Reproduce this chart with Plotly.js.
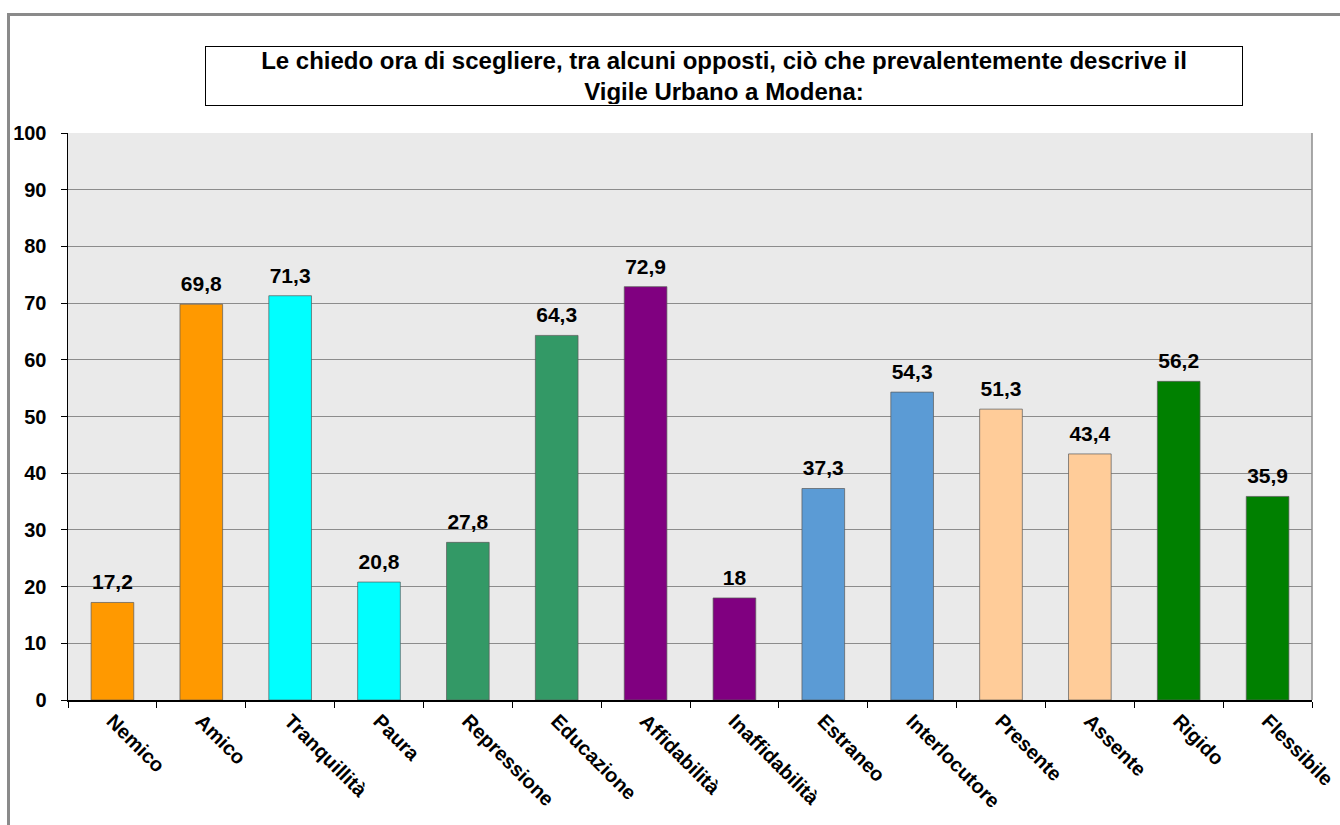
<!DOCTYPE html>
<html>
<head>
<meta charset="utf-8">
<script src="https://cdn.plot.ly/plotly-3.0.1.min.js"></script>
<style>
  html, body { margin: 0; padding: 0; background: #fff; width: 1340px; height: 825px; overflow: hidden; }
  #frame { position: absolute; left: 7px; top: 13px; width: 1400px; height: 900px; border-left: 3px solid #8a8a8a; border-top: 3px solid #8a8a8a; pointer-events: none; z-index: 2; }
  #chart { position: absolute; left: 0; top: 0; width: 1340px; height: 825px; }
</style>
</head>
<body>
<div id="chart"></div>
<div id="frame"></div>
<script>
const categories = ["Nemico", "Amico", "Tranquillità", "Paura", "Repressione", "Educazione", "Affidabilità", "Inaffidabilità", "Estraneo", "Interlocutore", "Presente", "Assente", "Rigido", "Flessibile"];
const values = [17.2, 69.8, 71.3, 20.8, 27.8, 64.3, 72.9, 18, 37.3, 54.3, 51.3, 43.4, 56.2, 35.9];
const barColors = ["#FF9900", "#FF9900", "#00FFFF", "#00FFFF", "#339966", "#339966", "#800080", "#800080", "#5B9BD5", "#5B9BD5", "#FFCC99", "#FFCC99", "#008000", "#008000"];
const yTicks = [0, 10, 20, 30, 40, 50, 60, 70, 80, 90, 100];
const titleText = "Le chiedo ora di scegliere, tra alcuni opposti, ciò che prevalentemente descrive il<br>Vigile Urbano a Modena:";

const labels = values.map(v => String(v).replace('.', ','));
const FONT = "Arial, 'Liberation Sans', sans-serif";

const bars = {
  type: 'bar',
  x: categories,
  y: values,
  marker: { color: barColors, line: { color: 'rgba(90,90,90,0.7)', width: 1 } },
  hoverinfo: 'x+y'
};

const valueLabels = {
  type: 'scatter',
  mode: 'markers+text',
  x: categories,
  y: values,
  text: labels,
  textposition: 'top center',
  cliponaxis: false,
  marker: { size: 11, opacity: 0 },
  textfont: { family: FONT, size: 21, color: '#000', weight: 'bold' },
  hoverinfo: 'skip'
};

const layout = {
  width: 1340,
  height: 825,
  margin: { l: 68, r: 28, t: 133, b: 125 },
  paper_bgcolor: '#ffffff',
  plot_bgcolor: '#EAEAEA',
  showlegend: false,
  bargap: 0.52,
  font: { family: FONT, color: '#000' },
  xaxis: {
    type: 'category',
    range: [-0.5, categories.length - 0.5],
    tickangle: 45,
    tickson: 'boundaries',
    ticks: 'outside',
    ticklen: 6,
    tickcolor: '#000',
    showgrid: false,
    showline: true,
    linecolor: '#000',
    linewidth: 1.5,
    tickfont: { family: FONT, size: 20, color: '#000', weight: 'bold' },
    fixedrange: true
  },
  yaxis: {
    range: [0, 100],
    tickvals: yTicks,
    ticktext: yTicks.map(String),
    ticks: 'outside',
    ticklen: 6,
    tickcolor: '#000',
    showline: true,
    linecolor: '#000',
    linewidth: 1.5,
    showgrid: true,
    gridcolor: '#8c8c8c',
    gridwidth: 1,
    zeroline: false,
    ticklabelstandoff: 10,
    tickfont: { family: FONT, size: 20, color: '#000', weight: 'bold' },
    fixedrange: true
  },
  shapes: [
    { type: 'line', xref: 'paper', yref: 'paper', x0: 1, x1: 1, y0: 0, y1: 1, line: { color: '#8c8c8c', width: 1.5 } }
  ],
  annotations: [
    {
      text: '<b>' + titleText + '</b>',
      xref: 'paper', yref: 'paper',
      x: 0.5273, y: 1.1005,
      xanchor: 'center', yanchor: 'middle',
      showarrow: false,
      width: 1034, height: 56,
      align: 'center', valign: 'middle',
      bordercolor: '#000', borderwidth: 1, borderpad: 1,
      bgcolor: '#fff',
      font: { family: FONT, size: 24, color: '#000' }
    }
  ]
};

Plotly.newPlot('chart', [bars, valueLabels], layout, { displayModeBar: false, staticPlot: true });
</script>
</body>
</html>
